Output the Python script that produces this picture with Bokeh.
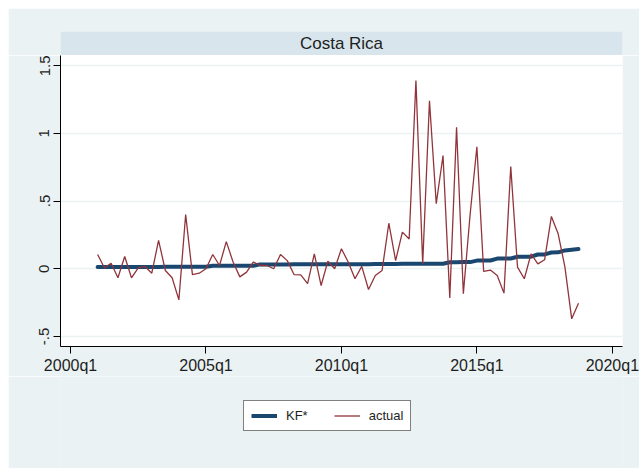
from bokeh.plotting import figure
from bokeh.models import Legend, LegendItem, FixedTicker, Range1d, Label
from bokeh.layouts import column
from bokeh.embed import file_html
from bokeh.resources import INLINE

panel_title = "Costa Rica"
first_year, last_year = 2001, 2018
quarters = [f"{y}q{q}" for y in range(first_year, last_year + 1) for q in range(1, 5)]

kf_star = [
    0.012, 0.012, 0.012, 0.012,
    0.012, 0.013, 0.013, 0.013,
    0.013, 0.013, 0.014, 0.014,
    0.014, 0.014, 0.014, 0.015,
    0.015, 0.022, 0.022, 0.022,
    0.022, 0.022, 0.022, 0.022,
    0.032, 0.032, 0.032, 0.032,
    0.032, 0.033, 0.033, 0.033,
    0.033, 0.033, 0.033, 0.033,
    0.034, 0.034, 0.034, 0.034,
    0.034, 0.035, 0.035, 0.035,
    0.035, 0.036, 0.036, 0.036,
    0.036, 0.036, 0.037, 0.037,
    0.048, 0.048, 0.049, 0.049,
    0.060, 0.060, 0.061, 0.075,
    0.075, 0.076, 0.088, 0.088,
    0.089, 0.105, 0.106, 0.120,
    0.121, 0.135, 0.140, 0.145,
]

actual = [
    0.105, 0.007, 0.040, -0.067,
    0.090, -0.067, 0.007, 0.017,
    -0.033, 0.210, -0.013, -0.067,
    -0.230, 0.400, -0.043, -0.033,
    0.000, 0.105, 0.024, 0.200,
    0.050, -0.060, -0.025, 0.050,
    0.024, 0.024, 0.000, 0.105,
    0.060, -0.043, -0.045, -0.110,
    0.110, -0.124, 0.056, 0.000,
    0.147, 0.050, -0.074, 0.017,
    -0.153, -0.050, -0.013, 0.336,
    0.060, 0.270, 0.220, 1.390,
    0.036, 1.240, 0.480, 0.836,
    -0.215, 1.045, -0.185, 0.400,
    0.900, -0.020, -0.010, -0.050,
    -0.180, 0.755, 0.012, -0.074,
    0.110, 0.036, 0.066, 0.386,
    0.258, 0.012, -0.370, -0.254,
]

x_tick_labels = ["2000q1", "2005q1", "2010q1", "2015q1", "2020q1"]
y_ticks = [-0.5, 0.0, 0.5, 1.0, 1.5]
y_tick_labels = ["-.5", "0", ".5", "1", "1.5"]
series_names = ["KF*", "actual"]


def tq(s):
    y, q = s.split("q")
    return (int(y) - 1960) * 4 + int(q) - 1


x = [tq(s) for s in quarters]
x_ticks = [tq(s) for s in x_tick_labels]

BG = "#EAF2F3"
BAND = "#D9E5EC"
NAVY = "#1A476F"
MAROON = "#90353B"
FONT = "Liberation Sans"
TXT = "#1E1E1E"
NAN = float("nan")

# header band (by-panel title)
h = figure(width=631, height=47, output_backend="svg", toolbar_location=None,
           x_range=Range1d(0, 1), y_range=Range1d(0, 1),
           x_axis_type=None, y_axis_type=None,
           min_border_left=52, min_border_right=17, min_border_top=23, min_border_bottom=0,
           background_fill_color=BAND, border_fill_color=BG, outline_line_color=None)
h.grid.visible = False
h.add_layout(Label(x=281, y=12, x_units="screen", y_units="screen", text=panel_title,
                   text_align="center", text_baseline="middle", text_font=FONT,
                   text_font_size="17px", text_color=TXT))

# main plot
p = figure(width=631, height=321, output_backend="svg", toolbar_location=None,
           x_range=Range1d(x_ticks[0] - 1.48, x_ticks[-1] + 1.5),
           y_range=Range1d(-0.574, 1.574),
           min_border_left=52, min_border_right=17, min_border_top=0, min_border_bottom=30,
           background_fill_color="white", border_fill_color=BG, outline_line_color=None)

p.line(x, kf_star, line_width=4, line_color=NAVY, line_cap="round")
p.line(x, actual, line_width=1.3, line_color=MAROON)

p.xaxis.ticker = FixedTicker(ticks=x_ticks)
p.xaxis.major_label_overrides = {t: l for t, l in zip(x_ticks, x_tick_labels)}
p.yaxis.ticker = FixedTicker(ticks=y_ticks)
p.yaxis.major_label_overrides = {t: l for t, l in zip(y_ticks, y_tick_labels)}
p.yaxis.major_label_orientation = "vertical"

for ax in (p.xaxis, p.yaxis):
    ax.axis_line_color = "black"
    ax.axis_line_width = 1
    ax.major_tick_line_color = "black"
    ax.major_tick_out = 7
    ax.major_tick_in = 0
    ax.minor_tick_line_color = None
    ax.major_label_text_font = FONT
    ax.major_label_text_font_size = "15px"
    ax.major_label_text_color = TXT
    ax.major_label_standoff = 4
p.xaxis.major_label_text_font_size = "16px"
p.xaxis.major_label_standoff = 3

p.xgrid.visible = False
p.ygrid.ticker = FixedTicker(ticks=y_ticks)
p.ygrid.grid_line_color = BG
p.ygrid.grid_line_width = 1.5

# legend strip (legend-only renderers carry the series styles)
lg = figure(width=631, height=92, output_backend="svg", toolbar_location=None,
            x_range=Range1d(0, 1), y_range=Range1d(0, 1),
            x_axis_type=None, y_axis_type=None,
            min_border_left=52, min_border_right=17, min_border_top=0, min_border_bottom=0,
            background_fill_color=BG, border_fill_color=BG, outline_line_color=None)
lg.grid.visible = False
k_kf = lg.line(x=[NAN], y=[NAN], line_width=4, line_color=NAVY)
k_act = lg.line(x=[NAN], y=[NAN], line_width=1.3, line_color=MAROON)

legend = Legend(items=[LegendItem(label=series_names[0], renderers=[k_kf]),
                       LegendItem(label=series_names[1], renderers=[k_act])],
                orientation="horizontal", location=(183, 37), margin=0,
                padding=7, spacing=26, glyph_width=26, glyph_height=15,
                label_height=15, label_standoff=9,
                label_text_font=FONT, label_text_font_size="13px", label_text_color=TXT,
                border_line_color="black", border_line_width=1,
                background_fill_color="white", background_fill_alpha=1)
lg.add_layout(legend, "center")

layout = column(h, p, lg, spacing=0, margin=(8, 0, 0, 8))
open("out.html", "w").write(file_html(layout, INLINE))
